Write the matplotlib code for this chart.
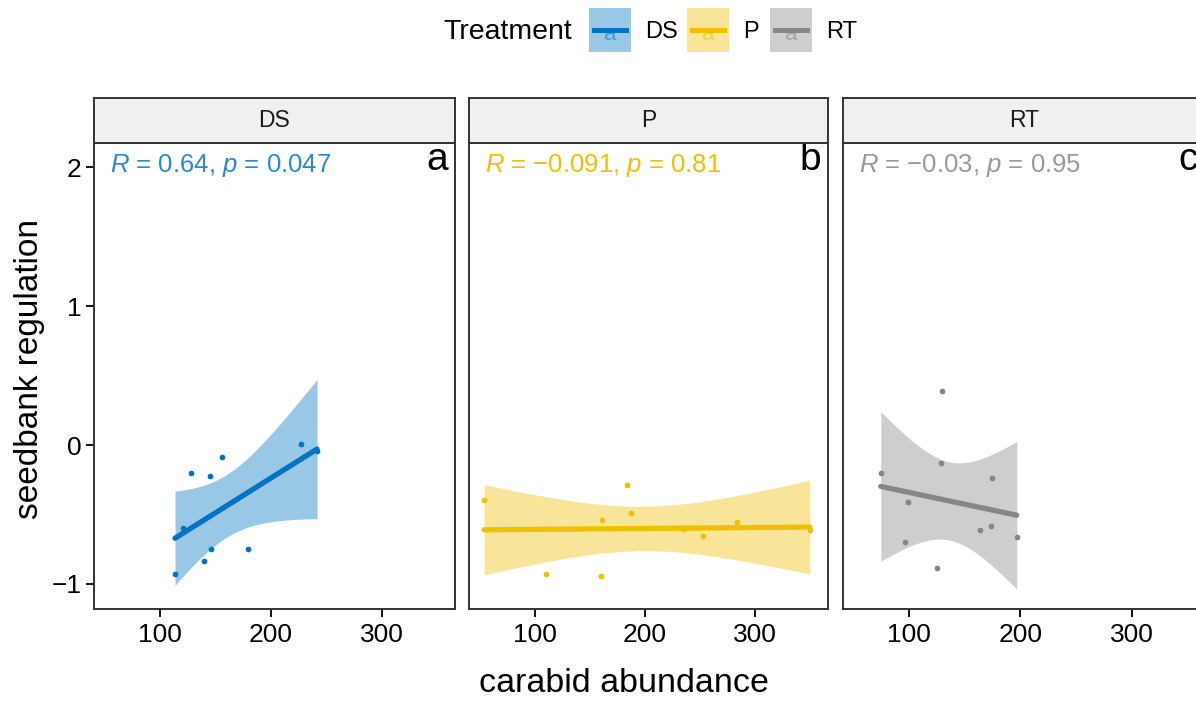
import numpy as np
import matplotlib
matplotlib.use("Agg")
import matplotlib.pyplot as plt
from matplotlib.patches import Rectangle
from matplotlib.lines import Line2D

plt.rcParams['font.family'] = ['Liberation Sans', 'DejaVu Sans']
plt.rcParams['mathtext.fontset'] = 'custom'
plt.rcParams['mathtext.rm'] = 'Liberation Sans'
plt.rcParams['mathtext.it'] = 'Liberation Sans:italic'
plt.rcParams['axes.unicode_minus'] = True

# data
treatments = ['DS', 'P', 'RT']
colors = ['#0073C2', '#EFC000', '#868686']
label_colors = ['#2A8BCF', '#EFC000', '#999999']
panel_letters = ['a', 'b', 'c']
stats_text = ['$R$ = 0.64, $p$ = 0.047',
              '$R$ = \u22120.091, $p$ = 0.81',
              '$R$ = \u22120.03, $p$ = 0.95']

ds_x = [113.5, 121.0, 128.2, 145.3, 156.1, 139.4, 146.2, 179.3, 226.8, 241.5]
ds_y = [-0.93, -0.595, -0.20, -0.223, -0.084, -0.832, -0.746, -0.746, 0.005, -0.04]
p_x = [54.1, 109.9, 159.7, 160.6, 183.5, 187.7, 235.4, 252.3, 283.2, 349.3]
p_y = [-0.398, -0.928, -0.945, -0.537, -0.29, -0.487, -0.604, -0.653, -0.556, -0.609]
rt_x = [74.4, 129.6, 128.3, 98.5, 96.4, 125.3, 174.5, 163.6, 173.6, 196.6]
rt_y = [-0.204, 0.39, -0.13, -0.408, -0.696, -0.887, -0.235, -0.609, -0.583, -0.664]
xs = [ds_x, p_x, rt_x]
ys = [ds_y, p_y, rt_y]

x_ticks = [100, 200, 300]
y_ticks = [-1, 0, 1, 2]
t_crit = 2.306  # t(0.975, df=8)

W, H = 1196, 702
fig = plt.figure(figsize=(W / 100, H / 100), dpi=100)

lefts = [94, 469, 843]
widths = [361, 359, 362]
top, bottom, strip_top = 143, 609, 98

for i, tr in enumerate(treatments):
    ax = fig.add_axes([lefts[i] / W, (H - bottom) / H, widths[i] / W, (bottom - top) / H])
    x = np.array(xs[i]); y = np.array(ys[i])
    n = len(x)
    b, a = np.polyfit(x, y, 1)
    xx = np.linspace(x.min(), x.max(), 100)
    resid = y - (a + b * x)
    s = np.sqrt(np.sum(resid ** 2) / (n - 2))
    sxx = np.sum((x - x.mean()) ** 2)
    se = s * np.sqrt(1 / n + (xx - x.mean()) ** 2 / sxx)
    yy = a + b * xx
    ax.fill_between(xx, yy - t_crit * se, yy + t_crit * se, color=colors[i], alpha=0.4, lw=0)
    ax.plot(xx, yy, color=colors[i], lw=3.8, solid_capstyle='round')
    ax.scatter(x, y, s=17, color=colors[i], zorder=3, linewidths=0)
    ax.set_xlim(40.5, 365.8)
    ax.set_ylim(-1.18, 2.173)
    ax.set_xticks(x_ticks)
    ax.set_yticks(y_ticks)
    ax.tick_params(direction='out', length=6, width=1.3, labelsize=19, colors='black', pad=3)
    ax.tick_params(axis='x', pad=4)
    if i > 0:
        ax.tick_params(axis='y', left=False, labelleft=False)
    for sp in ax.spines.values():
        sp.set_linewidth(1.4)
        sp.set_color('#333333')
    ax.text(0.045, 0.952, stats_text[i], transform=ax.transAxes, fontsize=18.5,
            color=label_colors[i], va='center', ha='left')
    ax.text(0.98, 0.963, panel_letters[i], transform=ax.transAxes, fontsize=28,
            color='black', va='center', ha='right')

    sax = fig.add_axes([lefts[i] / W, (H - top) / H, widths[i] / W, (top - strip_top) / H])
    sax.set_facecolor('#F0F0F0')
    sax.set_xticks([]); sax.set_yticks([])
    for sp in sax.spines.values():
        sp.set_linewidth(1.4)
        sp.set_color('#333333')
    sax.text(0.5, 0.5, tr, transform=sax.transAxes, ha='center', va='center',
             fontsize=16.5, color='#1A1A1A')

fig.text(30 / W, 1 - 369 / H, 'seedbank regulation', rotation=90, fontsize=24,
         ha='center', va='center')
fig.text(624 / W, 1 - 684 / H, 'carabid abundance', fontsize=24.5, ha='center', va='center')

# legend
fig.text(443 / W, 1 - 32 / H, 'Treatment', fontsize=20.5, ha='left', va='center')
key_lefts = [589, 687, 770]
for i, tr in enumerate(treatments):
    kx = key_lefts[i]
    fig.patches.append(Rectangle((kx / W, 1 - 52 / H), 42 / W, 44 / H, transform=fig.transFigure,
                                 facecolor=colors[i], alpha=0.4, lw=0))
    fig.text((kx + 21) / W, 1 - 35 / H, 'a', fontsize=16, color=colors[i], alpha=0.55,
             ha='center', va='center', family='Liberation Sans')
    fig.lines.append(Line2D([(kx + 5) / W, (kx + 37) / W], [1 - 30 / H, 1 - 30 / H],
                            transform=fig.transFigure, color=colors[i], lw=3.6))
    fig.text((kx + 56) / W, 1 - 32 / H, tr, fontsize=17, ha='left', va='center')

fig.savefig('out.png', dpi=100)
